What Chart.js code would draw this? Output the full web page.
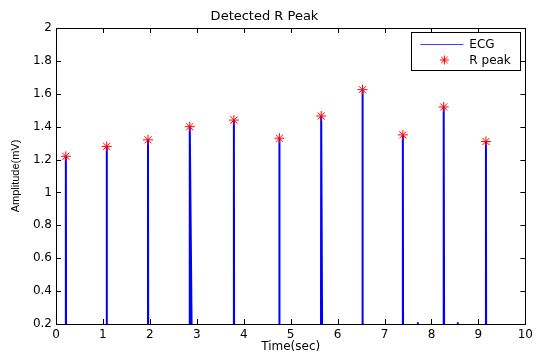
<!DOCTYPE html>
<html>
<head>
<meta charset="utf-8">
<script src="https://cdn.jsdelivr.net/npm/chart.js@4.4.1/dist/chart.umd.min.js"></script>
<style>
  html, body { margin: 0; padding: 0; background: #fff; }
  #wrap { width: 537px; height: 356px; }
</style>
</head>
<body>
<div id="wrap"><canvas id="ecgChart" width="537" height="356"></canvas></div>
<script>
// Sinal ECG (tempo em s, amplitude em mV) - linha de base fica abaixo de 0.2, fora do eixo
const ecgTime = [0, 0.205, 0.21, 0.215, 1.075, 1.08, 1.085, 1.955, 1.96, 1.965,
  2.845, 2.85, 2.895, 3.785, 3.79, 3.795, 4.755, 4.76, 4.757, 4.765,
  5.645, 5.65, 5.672, 6.525, 6.53, 6.535, 7.385, 7.39, 7.395, 7.70, 7.71, 7.72,
  8.255, 8.26, 8.27, 8.55, 8.56, 8.57, 9.155, 9.16, 9.165, 10];
const ecgAmp = [0, 0, 1.22, 0, 0, 1.28, 0, 0, 1.32, 0,
  0, 1.40, 0, 0, 1.44, 0, 0, 1.33, 0.86, 0,
  0, 1.465, 0, 0, 1.625, 0, 0, 1.35, 0, 0.1, 0.21, 0.1,
  0, 1.52, 0, 0.1, 0.21, 0.1, 0, 1.31, 0, 0];

// Picos R detectados
const peakTimes = [0.21, 1.08, 1.96, 2.85, 3.79, 4.76, 5.65, 6.53, 7.39, 8.26, 9.16];
const peakAmps = [1.22, 1.28, 1.32, 1.40, 1.44, 1.33, 1.465, 1.625, 1.35, 1.52, 1.31];

// Ticks dos eixos
const xTicks = [0, 1, 2, 3, 4, 5, 6, 7, 8, 9, 10];
const yTicks = [0.2, 0.4, 0.6, 0.8, 1, 1.2, 1.4, 1.6, 1.8, 2];

const FONT = "'DejaVu Sans', sans-serif";

// Caixa com ticks para dentro, estilo MATLAB
const boxTicks = {
  id: "boxTicks",
  afterDraw(chart) {
    const { ctx, chartArea: a, scales: { x, y } } = chart;
    const len = 5;
    ctx.save();
    ctx.strokeStyle = "#000";
    ctx.lineWidth = 1;
    ctx.beginPath();
    xTicks.forEach(v => {
      const px = Math.round(x.getPixelForValue(v)) + 0.5;
      ctx.moveTo(px, a.bottom); ctx.lineTo(px, a.bottom - len);
      ctx.moveTo(px, a.top); ctx.lineTo(px, a.top + len);
    });
    yTicks.forEach(v => {
      const py = Math.round(y.getPixelForValue(v)) + 0.5;
      ctx.moveTo(a.left, py); ctx.lineTo(a.left + len, py);
      ctx.moveTo(a.right, py); ctx.lineTo(a.right - len, py);
    });
    ctx.stroke();
    ctx.strokeRect(Math.round(a.left) + 0.5, Math.round(a.top) + 0.5,
      Math.round(a.right - a.left), Math.round(a.bottom - a.top));
    ctx.restore();
  }
};

// Legenda dentro do gráfico, canto superior direito
const boxLegend = {
  id: "boxLegend",
  afterDraw(chart) {
    const { ctx, chartArea: a } = chart;
    const w = 109, h = 38;
    const lx = a.right - 5 - w, ly = a.top + 4;
    ctx.save();
    ctx.fillStyle = "#fff";
    ctx.fillRect(lx, ly, w, h);
    ctx.strokeStyle = "#000";
    ctx.lineWidth = 1;
    ctx.strokeRect(Math.round(lx) + 0.5, Math.round(ly) + 0.5, w, h);

    const ds = chart.data.datasets;
    // linha ECG
    ctx.strokeStyle = ds[0].borderColor;
    ctx.globalAlpha = 0.75;
    ctx.lineWidth = 1;
    ctx.beginPath();
    ctx.moveTo(lx + 9, ly + 12.5);
    ctx.lineTo(lx + 52, ly + 12.5);
    ctx.stroke();
    ctx.globalAlpha = 1;
    // estrela R peak
    ctx.strokeStyle = ds[1].borderColor;
    Chart.helpers.drawPoint(ctx, { pointStyle: "star", radius: 4.5, rotation: 0, borderWidth: 1 }, lx + 33, ly + 28);

    ctx.fillStyle = "#000";
    ctx.font = "12px " + FONT;
    ctx.textBaseline = "middle";
    ctx.textAlign = "left";
    ctx.fillText(ds[0].label, lx + 58, ly + 12.5);
    ctx.fillText(ds[1].label, lx + 58, ly + 28.5);
    ctx.restore();
  }
};

new Chart(document.getElementById("ecgChart"), {
  type: "line",
  data: {
    datasets: [
      {
        label: "ECG",
        data: ecgTime.map((t, i) => ({ x: t, y: ecgAmp[i] })),
        borderColor: "#0000ff",
        borderWidth: 2,
        pointRadius: 0,
        tension: 0,
        fill: false,
        clip: 0,
        order: 2
      },
      {
        label: "R peak",
        data: peakTimes.map((t, i) => ({ x: t, y: peakAmps[i] })),
        showLine: false,
        pointStyle: "star",
        pointRadius: 5,
        borderColor: "#ff0000",
        backgroundColor: "#ff0000",
        pointBorderWidth: 1,
        order: 1
      }
    ]
  },
  options: {
    responsive: false,
    animation: false,
    layout: { padding: { right: 8 } },
    plugins: {
      legend: { display: false },
      tooltip: { enabled: false },
      title: {
        display: true,
        text: "Detected R Peak",
        color: "#000",
        font: { family: FONT, size: 13, weight: "normal" },
        padding: { top: 9, bottom: 3.4 }
      }
    },
    scales: {
      x: {
        type: "linear",
        min: 0,
        max: 10,
        afterBuildTicks: s => { s.ticks = xTicks.map(v => ({ value: v })); },
        afterFit: s => { s.height = 32; },
        grid: { display: false, drawTicks: false },
        border: { display: false },
        ticks: { color: "#000", padding: 4, maxRotation: 0, autoSkip: false, font: { family: FONT, size: 12 } },
        title: {
          display: true,
          text: "Time(sec)",
          color: "#000",
          font: { family: FONT, size: 12 },
          padding: { top: 0, bottom: 2 }
        }
      },
      y: {
        type: "linear",
        min: 0.2,
        max: 2,
        afterBuildTicks: s => { s.ticks = yTicks.map(v => ({ value: v })); },
        afterFit: s => { s.width = 56; },
        grid: { display: false, drawTicks: false },
        border: { display: false },
        ticks: {
          color: "#000",
          padding: 4,
          autoSkip: false,
          font: { family: FONT, size: 12 },
          callback: v => String(Number(v.toFixed(1)))
        },
        title: {
          display: true,
          text: "Amplitude(mV)",
          color: "#000",
          font: { family: "'Liberation Sans', Arial, sans-serif", size: 11 },
          padding: { top: 9, bottom: 0 }
        }
      }
    }
  },
  plugins: [boxTicks, boxLegend]
});
</script>
</body>
</html>
